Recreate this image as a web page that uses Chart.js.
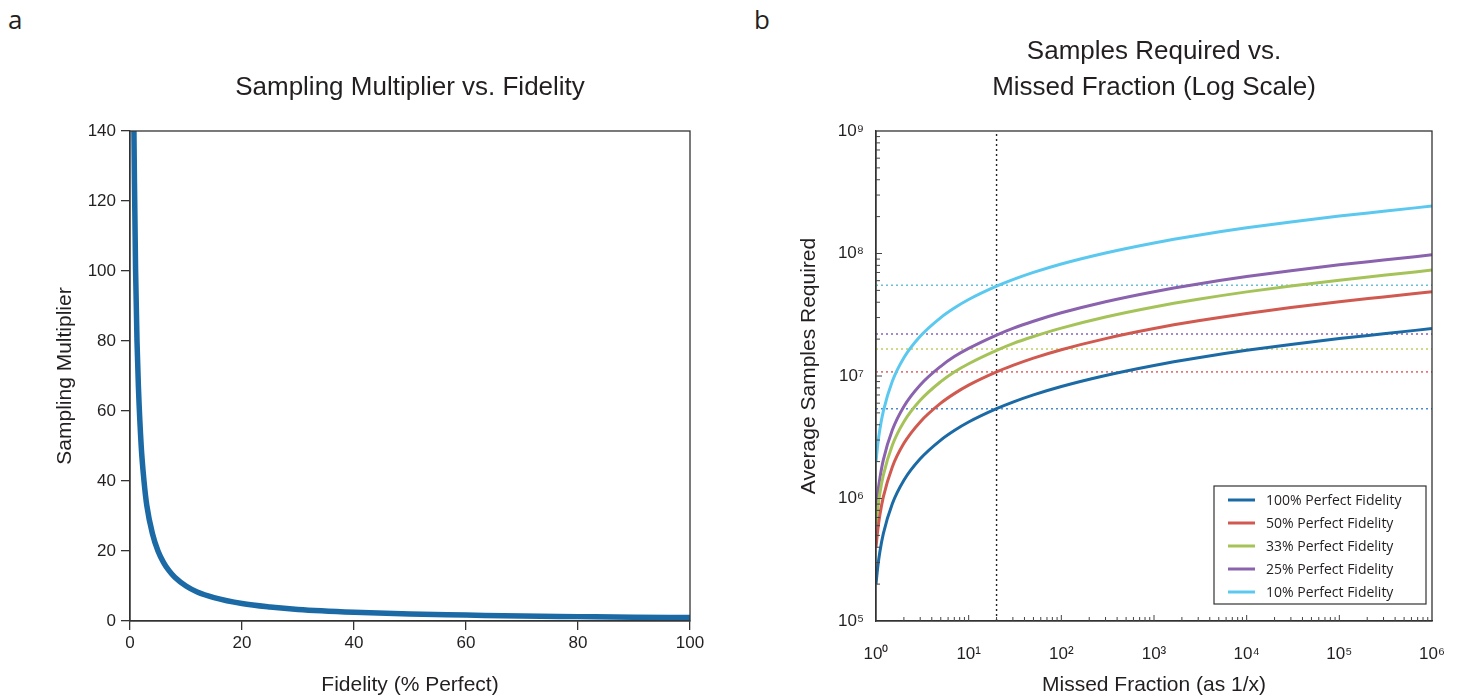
<!DOCTYPE html>
<html>
<head>
<meta charset="utf-8">
<script src="https://cdn.jsdelivr.net/npm/chart.js@4.4.1/dist/chart.umd.min.js"></script>
<style>
  body { margin: 0; background: #fff; width: 1460px; height: 696px; overflow: hidden; position: relative; }
  .panel { position: absolute; top: 0; width: 730px; height: 696px; }
  .letra { position: absolute; top: 1px; font: 26px "Open Sans", sans-serif; color: #231f20; }
</style>
</head>
<body>
<div class="letra" style="left: 8px;">a</div>
<div class="letra" style="left: 754px;">b</div>
<div class="panel" style="left: 0;"><canvas id="graficaA" width="730" height="696"></canvas></div>
<div class="panel" style="left: 730px;"><canvas id="graficaB" width="730" height="696"></canvas></div>
<script>
// ---- panel a: multiplicador vs fidelidad
const fidelidad = [0.7, 0.8, 1, 1.25, 1.5, 2, 2.5, 3, 4, 5, 6, 7, 8, 10, 12, 15, 20, 25, 30, 40, 50, 60, 70, 80, 90, 100];
const multiplicador = [140, 125, 100, 80, 67, 50, 40, 33, 25, 20, 16.7, 14.3, 12.5, 10, 8.3, 6.7, 5, 4, 3.3, 2.5, 2, 1.7, 1.4, 1.25, 1.1, 1];
const ticksFidelidad = [0, 20, 40, 60, 80, 100];
const ticksMultiplicador = [0, 20, 40, 60, 80, 100, 120, 140];

// ---- panel b: muestras requeridas vs fraccion perdida
const fraccion = [1, 1.05, 1.1, 1.2, 1.5, 2, 3, 5, 7, 10, 20, 30, 50, 100, 300, 1000, 3000, 1e4, 3e4, 1e5, 3e5, 1e6];
const fid100 = [2.0e5, 2.85e5, 3.66e5, 5.17e5, 9.06e5, 1.41e6, 2.11e6, 3.0e6, 3.59e6, 4.21e6, 5.41e6, 6.12e6, 7.01e6, 8.21e6, 1.01e7, 1.22e7, 1.41e7, 1.62e7, 1.81e7, 2.02e7, 2.21e7, 2.44e7];
const fid50 = [4.0e5, 5.7e5, 7.3e5, 1.03e6, 1.81e6, 2.82e6, 4.22e6, 6.0e6, 7.18e6, 8.42e6, 1.08e7, 1.22e7, 1.4e7, 1.64e7, 2.02e7, 2.44e7, 2.82e7, 3.24e7, 3.62e7, 4.04e7, 4.42e7, 4.88e7];
const fid33 = [6.0e5, 8.55e5, 1.1e6, 1.55e6, 2.72e6, 4.23e6, 6.33e6, 9.0e6, 1.08e7, 1.26e7, 1.62e7, 1.84e7, 2.1e7, 2.46e7, 3.03e7, 3.66e7, 4.23e7, 4.86e7, 5.43e7, 6.06e7, 6.63e7, 7.32e7];
const fid25 = [8.0e5, 1.14e6, 1.46e6, 2.07e6, 3.62e6, 5.64e6, 8.44e6, 1.2e7, 1.44e7, 1.68e7, 2.16e7, 2.45e7, 2.8e7, 3.28e7, 4.04e7, 4.88e7, 5.64e7, 6.48e7, 7.24e7, 8.08e7, 8.84e7, 9.76e7];
const fid10 = [2.0e6, 2.85e6, 3.66e6, 5.17e6, 9.06e6, 1.41e7, 2.11e7, 3.0e7, 3.59e7, 4.21e7, 5.41e7, 6.12e7, 7.01e7, 8.21e7, 1.01e8, 1.22e8, 1.41e8, 1.62e8, 1.81e8, 2.02e8, 2.21e8, 2.44e8];
const etiquetas = ['100% Perfect Fidelity', '50% Perfect Fidelity', '33% Perfect Fidelity', '25% Perfect Fidelity', '10% Perfect Fidelity'];
const colores = ['#1b6aa5', '#d05a50', '#a6c35a', '#8a62ad', '#5bc8ef'];
const coloresGuia = ['#4a8ad0', '#e07a78', '#c4cc5e', '#8a62b8', '#6ac0d6'];
// valor de cada curva en x = 20 (lineas punteadas)
const marcaX = 20;
const marcaY = [5.4e6, 1.08e7, 1.66e7, 2.2e7, 5.5e7];
const ticksFraccion = [1, 10, 100, 1000, 1e4, 1e5, 1e6];
const ticksMuestras = [1e5, 1e6, 1e7, 1e8, 1e9];

const fuente = '"Liberation Sans", Arial, sans-serif';
const tinta = '#231f20';
const sup = ['⁰', '¹', '²', '³', '⁴', '⁵', '⁶', '⁷', '⁸', '⁹'];
const potencia = (v) => '10' + sup[Math.round(Math.log10(v))];

// titulo centrado sobre el area, marco completo, leyenda y ticks menores
const marco = {
  id: 'marco',
  afterDraw(chart, args, opts) {
    const { ctx, chartArea: a } = chart;
    ctx.save();
    ctx.strokeStyle = '#333';
    ctx.lineWidth = 1.3;
    ctx.strokeRect(a.left, a.top, a.right - a.left, a.bottom - a.top);

    ctx.fillStyle = tinta;
    ctx.font = '26px ' + fuente;
    ctx.textAlign = 'center';
    ctx.textBaseline = 'middle';
    opts.titulo.forEach((t, i) => ctx.fillText(t, (a.left + a.right) / 2, opts.tituloY + i * 36));

    if (opts.ejeY) {
      ctx.save();
      ctx.font = '21px ' + fuente;
      ctx.translate(opts.ejeY.x, opts.ejeY.y);
      ctx.rotate(-Math.PI / 2);
      ctx.fillText(opts.ejeY.texto, 0, 0);
      ctx.restore();
    }

    if (opts.menores) {
      const sx = chart.scales.x, sy = chart.scales.y;
      ctx.lineWidth = 1;
      ctx.strokeStyle = '#444';
      ctx.beginPath();
      for (let d = 0; d < 6; d++) {
        for (let m = 1; m < 10; m++) {
          const px = sx.getPixelForValue(m * Math.pow(10, d));
          const largo = m === 1 ? (d === 0 ? 0 : 6) : 4;
          ctx.moveTo(px, a.bottom);
          ctx.lineTo(px, a.bottom - largo);
        }
      }
      for (let d = 5; d < 9; d++) {
        for (let m = 1; m < 10; m++) {
          const py = sy.getPixelForValue(m * Math.pow(10, d));
          const largo = m === 1 ? (d === 5 ? 0 : 6) : 4;
          ctx.moveTo(a.left, py);
          ctx.lineTo(a.left + largo, py);
        }
      }
      ctx.stroke();
    }

    if (opts.leyenda) {
      const w = 212, h = 118;
      const x0 = a.right - 6 - w, y0 = a.bottom - 17 - h;
      ctx.fillStyle = '#fff';
      ctx.fillRect(x0, y0, w, h);
      ctx.strokeStyle = '#333';
      ctx.lineWidth = 1.2;
      ctx.strokeRect(x0, y0, w, h);
      ctx.font = '14px "Open Sans", sans-serif';
      ctx.textAlign = 'left';
      etiquetas.forEach((t, i) => {
        const y = y0 + 14 + i * 23;
        ctx.strokeStyle = colores[i];
        ctx.lineWidth = 3;
        ctx.beginPath();
        ctx.moveTo(x0 + 14, y);
        ctx.lineTo(x0 + 41, y);
        ctx.stroke();
        ctx.fillStyle = tinta;
        ctx.fillText(t, x0 + 52, y + 1);
      });
    }
    ctx.restore();
  }
};

function ejeBase(extra) {
  return Object.assign({
    border: { color: '#333', width: 1.3 },
  }, extra);
}

const graficaA = new Chart(document.getElementById('graficaA'), {
  type: 'line',
  data: {
    datasets: [{
      data: fidelidad.map((f, i) => ({ x: f, y: multiplicador[i] })),
      borderColor: '#1b6aa5',
      borderWidth: 5.5,
      pointRadius: 0,
      cubicInterpolationMode: 'monotone',
      clip: 0
    }]
  },
  options: {
    animation: false,
    responsive: false,
    layout: { padding: { top: 131, right: 40, bottom: 0, left: 0 } },
    plugins: {
      legend: { display: false },
      tooltip: { enabled: false },
      marco: { titulo: ['Sampling Multiplier vs. Fidelity'], tituloY: 88 }
    },
    scales: {
      x: ejeBase({
        type: 'linear', min: 0, max: 100,
        afterBuildTicks: (s) => { s.ticks = ticksFidelidad.map(v => ({ value: v })); },
        afterFit: (s) => { s.height = 75; },
        grid: { drawOnChartArea: false, color: '#333', lineWidth: 1.3, tickLength: 9 },
        ticks: { color: tinta, font: { family: fuente, size: 17 }, padding: 3, maxRotation: 0 },
        title: { display: true, text: 'Fidelity (% Perfect)', color: tinta, font: { family: fuente, size: 21, lineHeight: 1 }, padding: { top: 0, bottom: 0 } }
      }),
      y: ejeBase({
        type: 'linear', min: 0, max: 140,
        afterBuildTicks: (s) => { s.ticks = ticksMultiplicador.map(v => ({ value: v })); },
        afterFit: (s) => { s.width = 130; },
        grid: { drawOnChartArea: false, color: '#333', lineWidth: 1.3, tickLength: 9 },
        ticks: { color: tinta, font: { family: fuente, size: 17 }, padding: 5 },
        title: { display: true, text: 'Sampling Multiplier', color: tinta, font: { family: fuente, size: 21, lineHeight: 1 }, padding: { top: 55, bottom: 0 } }
      })
    }
  },
  plugins: [marco]
});

const curvas = [fid100, fid50, fid33, fid25, fid10].map((serie, i) => ({
  data: fraccion.map((f, j) => ({ x: f, y: serie[j] })),
  borderColor: colores[i],
  borderWidth: 3,
  pointRadius: 0,
  cubicInterpolationMode: 'monotone'
}));
const guias = marcaY.map((v, i) => ({
  data: [{ x: 1, y: v }, { x: 1e6, y: v }],
  borderColor: coloresGuia[i],
  borderWidth: 1.6,
  borderDash: [2, 3],
  pointRadius: 0
}));
const guiaVertical = {
  data: [{ x: marcaX, y: 1e5 }, { x: marcaX, y: 1e9 }],
  borderColor: '#222',
  borderWidth: 1.4,
  borderDash: [2, 3],
  pointRadius: 0
};

const graficaB = new Chart(document.getElementById('graficaB'), {
  type: 'line',
  data: { datasets: curvas.concat(guias, [guiaVertical]) },
  options: {
    animation: false,
    responsive: false,
    layout: { padding: { top: 131, right: 28, bottom: 0, left: 0 } },
    plugins: {
      legend: { display: false },
      tooltip: { enabled: false },
      marco: {
        titulo: ['Samples Required vs.', 'Missed Fraction (Log Scale)'], tituloY: 52,
        ejeY: { texto: 'Average Samples Required', x: 79, y: 366 },
        menores: true, leyenda: true
      }
    },
    scales: {
      x: ejeBase({
        type: 'logarithmic', min: 1, max: 1e6,
        afterBuildTicks: (s) => { s.ticks = ticksFraccion.map(v => ({ value: v })); },
        afterFit: (s) => { s.height = 75; },
        // marcas invisibles: solo separan las etiquetas del eje
        grid: { drawOnChartArea: false, drawTicks: true, tickLength: 17, color: 'rgba(0,0,0,0)' },
        ticks: { color: tinta, font: { family: fuente, size: 17 }, padding: 6, maxRotation: 0, callback: (v) => potencia(v) },
        title: { display: true, text: 'Missed Fraction (as 1/x)', color: tinta, font: { family: fuente, size: 21, lineHeight: 1 }, padding: { top: 0, bottom: 0 } }
      }),
      y: ejeBase({
        type: 'logarithmic', min: 1e5, max: 1e9,
        afterBuildTicks: (s) => { s.ticks = ticksMuestras.map(v => ({ value: v })); },
        afterFit: (s) => { s.width = 146; },
        grid: { drawOnChartArea: false, drawTicks: false },
        ticks: { color: tinta, font: { family: fuente, size: 17 }, padding: 12, callback: (v) => potencia(v) },
        title: { display: false }
      })
    }
  },
  plugins: [marco]
});
</script>
</body>
</html>
